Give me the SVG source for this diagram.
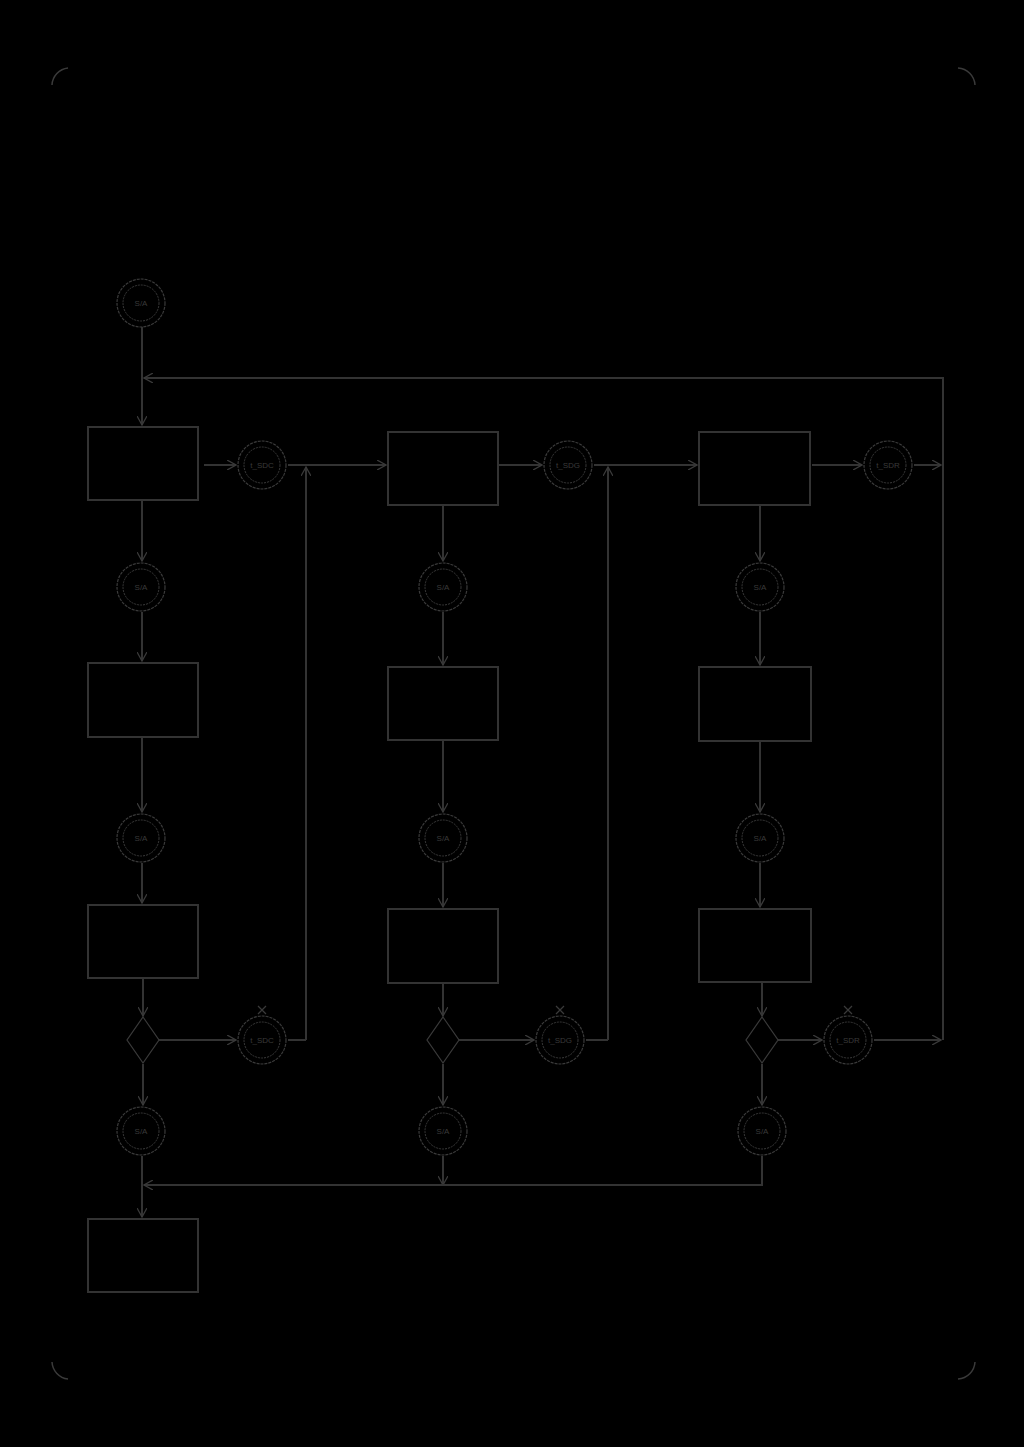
<svg xmlns="http://www.w3.org/2000/svg" width="1024" height="1447" viewBox="0 0 1024 1447">
<defs>
<style>
.bg{fill:#000}
.box{fill:none;stroke:#333;stroke-width:2}
.ln{fill:none;stroke:#333;stroke-width:2}
.co{fill:none;stroke:#3a3a3a;stroke-width:1.2;stroke-dasharray:3 1}
.ci{fill:none;stroke:#3a3a3a;stroke-width:1;stroke-dasharray:2 1}
.dm{fill:none;stroke:#3a3a3a;stroke-width:1.2}
.tx{font-family:"Liberation Sans",Arial,sans-serif;font-size:8px;fill:#3a3a3a;text-anchor:middle}
.cm{fill:none;stroke:#3a3a3a;stroke-width:1.5}
</style>
<marker id="ah" viewBox="0 0 10 10" refX="9" refY="5" markerWidth="10" markerHeight="10" markerUnits="userSpaceOnUse" orient="auto">
<path d="M0,0 L9,5 L0,10" fill="none" stroke="#3a3a3a" stroke-width="1.3"/>
</marker>
<g id="ev"><circle class="co" r="24"/><circle class="ci" r="18"/></g>
</defs>
<rect class="bg" x="0" y="0" width="1024" height="1447"/>
<g id="corners">
<path class="cm" d="M52,85 A18,18 0 0 1 68,68"/>
<path class="cm" d="M958,68 A18,18 0 0 1 975,85"/>
<path class="cm" d="M52,1362 A18,18 0 0 0 68,1379"/>
<path class="cm" d="M958,1379 A18,18 0 0 0 975,1362"/>
</g>
<g id="connectors">
<path class="ln" d="M142,327 V425" marker-end="url(#ah)"/>
<path class="ln" d="M943,1040 V378 H144" marker-end="url(#ah)"/>
<path class="ln" d="M204,465 H236" marker-end="url(#ah)"/>
<path class="ln" d="M288,465 H386" marker-end="url(#ah)"/>
<path class="ln" d="M306,1040 V467" marker-end="url(#ah)"/>
<path class="ln" d="M499,465 H542" marker-end="url(#ah)"/>
<path class="ln" d="M594,465 H697" marker-end="url(#ah)"/>
<path class="ln" d="M608,1040 V467" marker-end="url(#ah)"/>
<path class="ln" d="M812,465 H862" marker-end="url(#ah)"/>
<path class="ln" d="M914,465 H941" marker-end="url(#ah)"/>
<path class="ln" d="M142,500 V561" marker-end="url(#ah)"/>
<path class="ln" d="M142,612 V661" marker-end="url(#ah)"/>
<path class="ln" d="M142,737 V812" marker-end="url(#ah)"/>
<path class="ln" d="M142,863 V903" marker-end="url(#ah)"/>
<path class="ln" d="M143,978 V1016" marker-end="url(#ah)"/>
<path class="ln" d="M159,1040 H236" marker-end="url(#ah)"/>
<path class="ln" d="M288,1040 H306"/>
<path class="ln" d="M143,1064 V1105" marker-end="url(#ah)"/>
<path class="ln" d="M443,505 V561" marker-end="url(#ah)"/>
<path class="ln" d="M443,612 V665" marker-end="url(#ah)"/>
<path class="ln" d="M443,740 V812" marker-end="url(#ah)"/>
<path class="ln" d="M443,863 V907" marker-end="url(#ah)"/>
<path class="ln" d="M443,983 V1016" marker-end="url(#ah)"/>
<path class="ln" d="M459,1040 H534" marker-end="url(#ah)"/>
<path class="ln" d="M586,1040 H608"/>
<path class="ln" d="M443,1064 V1105" marker-end="url(#ah)"/>
<path class="ln" d="M760,505 V561" marker-end="url(#ah)"/>
<path class="ln" d="M760,612 V665" marker-end="url(#ah)"/>
<path class="ln" d="M760,741 V812" marker-end="url(#ah)"/>
<path class="ln" d="M760,863 V907" marker-end="url(#ah)"/>
<path class="ln" d="M762,982 V1016" marker-end="url(#ah)"/>
<path class="ln" d="M778,1040 H822" marker-end="url(#ah)"/>
<path class="ln" d="M874,1040 H941" marker-end="url(#ah)"/>
<path class="ln" d="M762,1064 V1105" marker-end="url(#ah)"/>
<path class="ln" d="M142,1156 V1217" marker-end="url(#ah)"/>
<path class="ln" d="M443,1156 V1185" marker-end="url(#ah)"/>
<path class="ln" d="M762,1156 V1185 H144" marker-end="url(#ah)"/>
</g>
<g id="start"><use href="#ev" x="141" y="303"/><text class="tx" x="141" y="306">S/A</text></g>
<g id="task1a"><rect class="box" x="88" y="427" width="110" height="73"/></g>
<g id="ev1a"><use href="#ev" x="262" y="465"/><text class="tx" x="262" y="468">t_SDC</text></g>
<g id="task2a"><rect class="box" x="388" y="432" width="110" height="73"/></g>
<g id="ev2a"><use href="#ev" x="568" y="465"/><text class="tx" x="568" y="468">t_SDG</text></g>
<g id="task3a"><rect class="box" x="699" y="432" width="111" height="73"/></g>
<g id="ev3a"><use href="#ev" x="888" y="465"/><text class="tx" x="888" y="468">t_SDR</text></g>
<g id="ev1b"><use href="#ev" x="141" y="587"/><text class="tx" x="141" y="590">S/A</text></g>
<g id="ev2b"><use href="#ev" x="443" y="587"/><text class="tx" x="443" y="590">S/A</text></g>
<g id="ev3b"><use href="#ev" x="760" y="587"/><text class="tx" x="760" y="590">S/A</text></g>
<g id="task1b"><rect class="box" x="88" y="663" width="110" height="74"/></g>
<g id="task2b"><rect class="box" x="388" y="667" width="110" height="73"/></g>
<g id="task3b"><rect class="box" x="699" y="667" width="112" height="74"/></g>
<g id="ev1c"><use href="#ev" x="141" y="838"/><text class="tx" x="141" y="841">S/A</text></g>
<g id="ev2c"><use href="#ev" x="443" y="838"/><text class="tx" x="443" y="841">S/A</text></g>
<g id="ev3c"><use href="#ev" x="760" y="838"/><text class="tx" x="760" y="841">S/A</text></g>
<g id="task1c"><rect class="box" x="88" y="905" width="110" height="73"/></g>
<g id="task2c"><rect class="box" x="388" y="909" width="110" height="74"/></g>
<g id="task3c"><rect class="box" x="699" y="909" width="112" height="73"/></g>
<g id="gw1"><path class="dm" d="M143,1017 L159,1040 L143,1063 L127,1040 Z"/></g>
<g id="gw2"><path class="dm" d="M443,1017 L459,1040 L443,1063 L427,1040 Z"/></g>
<g id="gw3"><path class="dm" d="M762,1017 L778,1040 L762,1063 L746,1040 Z"/></g>
<g id="ev1d"><use href="#ev" x="262" y="1040"/><text class="tx" x="262" y="1043">t_SDC</text><path class="dm" d="M258,1006 L266,1014 M266,1006 L258,1014"/></g>
<g id="ev2d"><use href="#ev" x="560" y="1040"/><text class="tx" x="560" y="1043">t_SDG</text><path class="dm" d="M556,1006 L564,1014 M564,1006 L556,1014"/></g>
<g id="ev3d"><use href="#ev" x="848" y="1040"/><text class="tx" x="848" y="1043">t_SDR</text><path class="dm" d="M844,1006 L852,1014 M852,1006 L844,1014"/></g>
<g id="ev1e"><use href="#ev" x="141" y="1131"/><text class="tx" x="141" y="1134">S/A</text></g>
<g id="ev2e"><use href="#ev" x="443" y="1131"/><text class="tx" x="443" y="1134">S/A</text></g>
<g id="ev3e"><use href="#ev" x="762" y="1131"/><text class="tx" x="762" y="1134">S/A</text></g>
<g id="end"><rect class="box" x="88" y="1219" width="110" height="73"/></g>
</svg>
